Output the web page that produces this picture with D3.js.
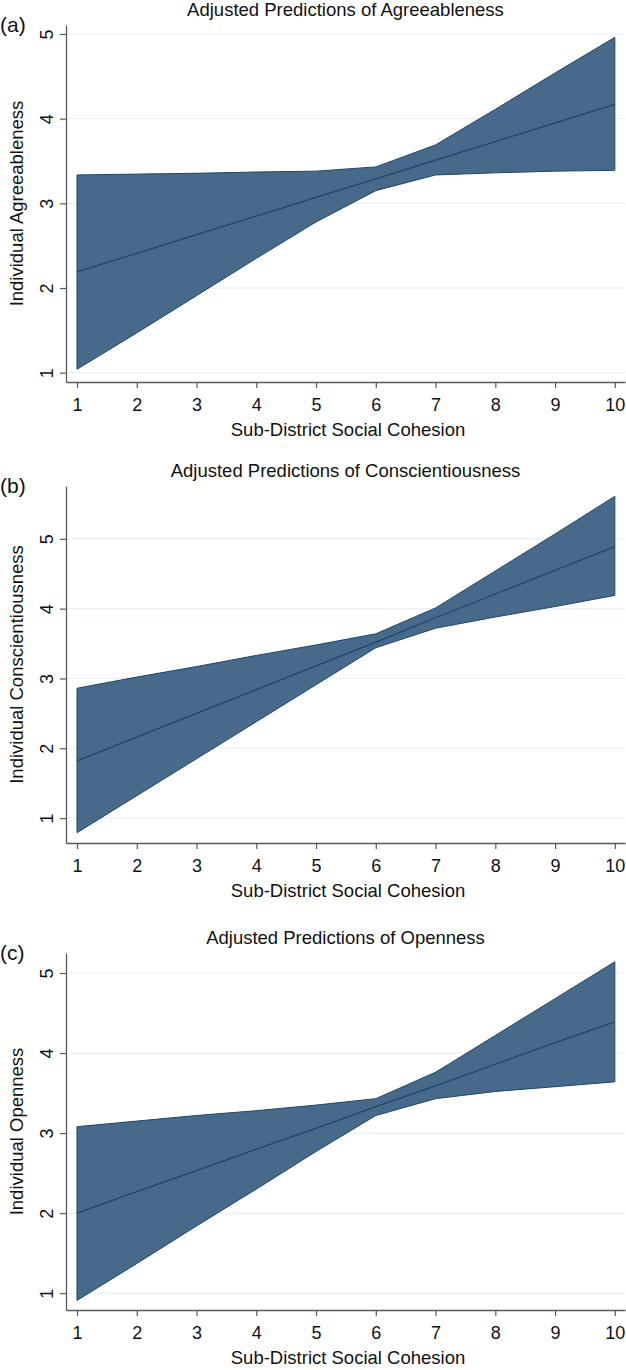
<!DOCTYPE html>
<html>
<head>
<meta charset="utf-8">
<script src="https://cdn.jsdelivr.net/npm/d3@7/dist/d3.min.js"></script>
<style>
  body { margin: 0; background: #fff; }
  svg { display: block; font-family: "Liberation Sans", Arial, sans-serif; }
</style>
</head>
<body>
<div id="chart"></div>
<script>
// x values (sub-district social cohesion)
var xValues = [1, 2, 3, 4, 5, 6, 7, 8, 9, 10];
var xTicks = [1, 2, 3, 4, 5, 6, 7, 8, 9, 10];
var yTicks = [1, 2, 3, 4, 5];

// (a) agreeableness
var agreeUpper = [3.335, 3.345, 3.355, 3.37, 3.38, 3.43, 3.69, 4.11, 4.54, 4.96];
var agreeMid   = [2.19, 2.41, 2.63, 2.85, 3.07, 3.29, 3.51, 3.73, 3.95, 4.17];
var agreeLower = [1.04, 1.47, 1.91, 2.35, 2.78, 3.15, 3.335, 3.36, 3.38, 3.39];

// (b) conscientiousness
var conscUpper = [2.86, 3.02, 3.17, 3.33, 3.48, 3.64, 4.01, 4.54, 5.07, 5.61];
var conscMid   = [1.82, 2.16, 2.50, 2.84, 3.18, 3.52, 3.87, 4.21, 4.55, 4.89];
var conscLower = [0.79, 1.32, 1.85, 2.38, 2.91, 3.44, 3.72, 3.88, 4.03, 4.19];

// (c) openness
var openUpper = [3.08, 3.15, 3.22, 3.28, 3.35, 3.43, 3.76, 4.22, 4.68, 5.14];
var openMid   = [2.00, 2.27, 2.53, 2.80, 3.06, 3.33, 3.59, 3.86, 4.13, 4.39];
var openLower = [0.91, 1.37, 1.84, 2.30, 2.77, 3.22, 3.43, 3.52, 3.58, 3.64];

var panelLetters = ["(a)", "(b)", "(c)"];
var panelTitles = ["Adjusted Predictions of Agreeableness",
                   "Adjusted Predictions of Conscientiousness",
                   "Adjusted Predictions of Openness"];
var yTitles = ["Individual Agreeableness", "Individual Conscientiousness", "Individual Openness"];
var xTitle = "Sub-District Social Cohesion";

var panels = [
  { lower: agreeLower, mid: agreeMid, upper: agreeUpper, top: 25, yDomain: [0.89, 5.106] },
  { lower: conscLower, mid: conscMid, upper: conscUpper, top: 486, yDomain: [0.643, 5.757] },
  { lower: openLower, mid: openMid, upper: openUpper, top: 953, yDomain: [0.79, 5.25] }
];

var W = 626, H = 1370;
var plotH = 357;
var left = 66, right = 625;

var fillColor = "#476a8b";
var edgeColor = "#1f4669";
var axisColor = "#5a5a5a";
var gridColor = "#e9f1f3";

var svg = d3.select("#chart").append("svg")
    .attr("width", W)
    .attr("height", H);

var x = d3.scaleLinear().domain([0.816, 10.17]).range([left, right]);

panels.forEach(function(p, i) {
    var g = svg.append("g").attr("transform", "translate(0," + p.top + ")");
    var y = d3.scaleLinear().domain(p.yDomain).range([plotH, 0]);

    var rows = xValues.map(function(v, k) {
        return { x: v, lo: p.lower[k], mid: p.mid[k], hi: p.upper[k] };
    });

    // grid lines
    g.selectAll(".grid").data(yTicks).enter().append("line")
        .attr("class", "grid")
        .attr("x1", left).attr("x2", right)
        .attr("y1", function(d) { return y(d); })
        .attr("y2", function(d) { return y(d); })
        .attr("stroke", gridColor)
        .attr("stroke-width", 1.2);

    // confidence band
    var area = d3.area()
        .x(function(d) { return x(d.x); })
        .y0(function(d) { return y(d.lo); })
        .y1(function(d) { return y(d.hi); });
    g.append("path")
        .attr("d", area(rows))
        .attr("fill", fillColor)
        .attr("stroke", edgeColor)
        .attr("stroke-width", 1)
        .attr("stroke-linejoin", "round");

    // predicted line
    var line = d3.line()
        .x(function(d) { return x(d.x); })
        .y(function(d) { return y(d.mid); });
    g.append("path")
        .attr("d", line(rows))
        .attr("fill", "none")
        .attr("stroke", edgeColor)
        .attr("stroke-width", 1.3);

    // y axis
    var yAxis = g.append("g")
        .attr("transform", "translate(" + left + ",0)")
        .call(d3.axisLeft(y).tickValues(yTicks).tickFormat(d3.format("d"))
            .tickSize(6).tickPadding(6).tickSizeOuter(0));
    yAxis.select(".domain").attr("stroke", axisColor).attr("stroke-width", 1.3);
    yAxis.selectAll(".tick line").attr("stroke", axisColor).attr("stroke-width", 1.2);
    yAxis.selectAll(".tick text")
        .attr("font-size", "18px")
        .attr("fill", "#111")
        .attr("transform", "rotate(-90)")
        .attr("x", 0)
        .attr("y", -13)
        .attr("dy", 0)
        .attr("text-anchor", "middle");

    // x axis
    var xAxis = g.append("g")
        .attr("transform", "translate(0," + plotH + ")")
        .call(d3.axisBottom(x).tickValues(xTicks).tickFormat(d3.format("d"))
            .tickSize(6).tickPadding(10).tickSizeOuter(0));
    xAxis.select(".domain").attr("stroke", axisColor).attr("stroke-width", 1.3);
    xAxis.selectAll(".tick line").attr("stroke", axisColor).attr("stroke-width", 1.2);
    xAxis.selectAll(".tick text")
        .attr("font-size", "18px")
        .attr("fill", "#111");

    // titles
    g.append("text")
        .attr("x", (left + right) / 2)
        .attr("y", -9)
        .attr("text-anchor", "middle")
        .attr("font-size", "18.5px")
        .attr("fill", "#111")
        .text(panelTitles[i]);

    g.append("text")
        .attr("x", 348)
        .attr("y", plotH + 54)
        .attr("text-anchor", "middle")
        .attr("font-size", "18.5px")
        .attr("fill", "#111")
        .text(xTitle);

    g.append("text")
        .attr("transform", "translate(23," + (plotH / 2) + ") rotate(-90)")
        .attr("text-anchor", "middle")
        .attr("font-size", "18.5px")
        .attr("fill", "#111")
        .text(yTitles[i]);

    g.append("text")
        .attr("x", 0)
        .attr("y", 7)
        .attr("font-size", "21px")
        .attr("fill", "#111")
        .text(panelLetters[i]);
});
</script>
</body>
</html>
